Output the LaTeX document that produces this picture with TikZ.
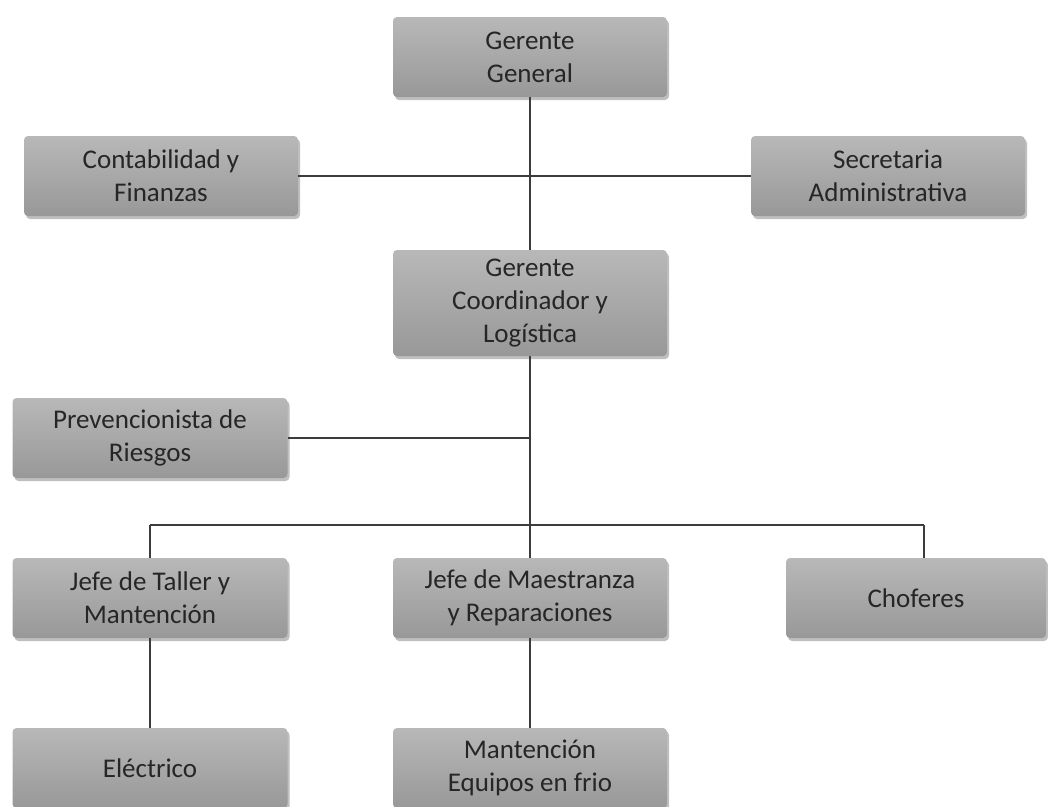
\documentclass[tikz,border=0pt]{standalone}
\usepackage{fontspec}
\setmainfont{Carlito}
\usetikzlibrary{shadows}
\definecolor{boxtop}{HTML}{B8B8B8}
\definecolor{boxbot}{HTML}{989898}
\definecolor{linec}{HTML}{3C3C3C}
\begin{document}
\begin{tikzpicture}[x=1pt,y=-1pt,
  orgbox/.style={rectangle, rounded corners=4pt, top color=boxtop, bottom color=boxbot,
    draw=none, minimum width=274pt, minimum height=80pt, align=center, inner sep=2pt,
    font=\fontsize{27}{33}\selectfont, text=black!85,
    drop shadow={shadow xshift=2pt, shadow yshift=-3pt, fill=black, opacity=0.25}},
  conn/.style={draw=linec, line width=1.2pt}]
\useasboundingbox (0,0) rectangle (1048,806);
\node[orgbox] (gg) at (530,57) {Gerente\\General};
\node[orgbox] (cf) at (161,176) {Contabilidad y\\Finanzas};
\node[orgbox] (sa) at (888,176) {Secretaria\\Administrativa};
\node[orgbox, minimum height=106pt] (gc) at (530,303) {Gerente\\Coordinador y\\Logística};
\node[orgbox, minimum width=275pt] (pr) at (150,438) {Prevencionista de\\Riesgos};
\node[orgbox, minimum width=275pt] (jt) at (150,598) {Jefe de Taller y\\Mantención};
\node[orgbox] (jm) at (530,598) {Jefe de Maestranza\\y Reparaciones};
\node[orgbox, minimum width=260pt] (ch) at (916,598) {Choferes};
\node[orgbox, minimum width=275pt] (el) at (150,768) {Eléctrico};
\node[orgbox] (me) at (530,768) {Mantención\\Equipos en frio};
\coordinate (j1) at (530,176);
\coordinate (j2) at (530,438);
\coordinate (j3) at (530,525);
\coordinate (bl) at (150,525);
\coordinate (br) at (924,525);
\draw[conn] (gg.south) -- (gc.north);
\draw[conn] (cf.east) -- (sa.west);
\draw[conn] (gc.south) -- (j3);
\draw[conn] (pr.east) -- (j2);
\draw[conn] (bl) -- (br);
\draw[conn] (bl) -- (jt.north);
\draw[conn] (j3) -- (jm.north);
\draw[conn] (br) -- (br |- ch.north);
\draw[conn] (jt.south) -- (el.north);
\draw[conn] (jm.south) -- (me.north);
\end{tikzpicture}
\end{document}
